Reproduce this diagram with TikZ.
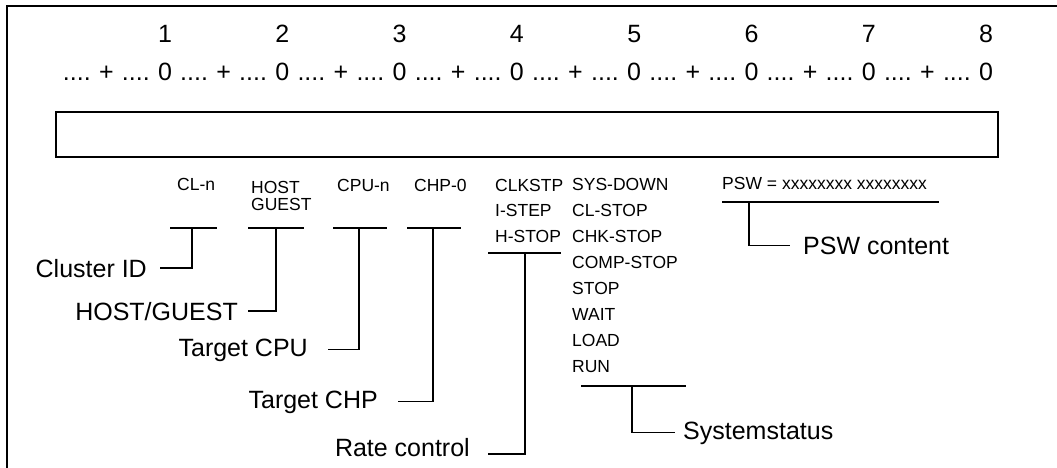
\documentclass[tikz,border=0pt]{standalone}
\usepackage{fontspec}
\setmainfont{Liberation Sans}
\usetikzlibrary{positioning}

\tikzset{
  small/.style={font=\fontsize{17.5}{20}\selectfont, inner sep=0pt},
  big/.style={font=\fontsize{25}{30}\selectfont, inner ysep=0pt},
  lead/.style={line width=1.2pt},
  frame/.style={line width=1.8pt},
}

\begin{document}
\begin{tikzpicture}[x=1pt, y=-1pt]

    \useasboundingbox (0,0) rectangle (1057,468);

    % Outer frame (only left and top edge visible)
    \draw[frame] (7,470) -- (7,6) -- (1060,6);

    % Column ruler
    \foreach \k in {1,...,8} {
        \pgfmathsetmacro{\xk}{165+117.3*(\k-1)}
        \node[big, inner sep=0pt, anchor=base] (num\k) at (\xk,43) {\k};
    }
    \node[big, inner sep=0pt, anchor=base east] (ruler) at (993,81)
        {\frenchspacing\spaceskip=8.3pt .... + .... 0 .... + .... 0 .... + .... 0 .... + .... 0 .... + .... 0 .... + .... 0 .... + .... 0 .... + .... 0};

    % Input line
    \draw[lead] (56,112) rectangle (998,157);

    % Field values
    \node[small, anchor=base west] (cln) at (177,190) {CL-n};
    \node[small, anchor=base west] (host) at (251,193) {HOST};
    \node[small, anchor=base west] (guest) at (251,210) {GUEST};
    \node[small, anchor=base west] (cpun) at (337,191) {CPU-n};
    \node[small, anchor=base west] (chp) at (414,191) {CHP-0};

    \foreach \txt [count=\i from 0] in {CLKSTP, I-STEP, H-STOP}
        \node[small, anchor=base west] (rate\i) at (495,191+25.9*\i) {\txt};

    \foreach \txt [count=\i from 0] in {SYS-DOWN, CL-STOP, CHK-STOP, COMP-STOP, STOP, WAIT, LOAD, RUN}
        \node[small, anchor=base west] (stat\i) at (572,190+26*\i) {\txt};

    \node[small, anchor=base west] (psw) at (722,189) {PSW = xxxxxxxx xxxxxxxx};

    % Field descriptions
    \node[big, anchor=base east, inner xsep=13pt] (clusterid) at (160,277) {Cluster ID};
    \node[big, anchor=base east, inner xsep=10pt] (hostguest) at (248,320) {HOST/GUEST};
    \node[big, anchor=base east, inner xsep=20pt] (targetcpu) at (328,356) {Target CPU};
    \node[big, anchor=base east, inner xsep=20pt] (targetchp) at (398,408) {Target CHP};
    \node[big, anchor=base east, inner xsep=18pt] (ratecontrol) at (488,456) {Rate control};
    \node[big, anchor=base west, inner xsep=8pt] (sysstatus) at (675,439) {Systemstatus};
    \node[big, anchor=base west, inner xsep=13pt] (pswcontent) at (790,254) {PSW content};

    % Brackets under the fields
    \coordinate (cl-tap) at (192,228);
    \coordinate (hg-tap) at (276,228);
    \coordinate (cpu-tap) at (359,228);
    \coordinate (chp-tap) at (433,228);
    \coordinate (rate-tap) at (525,253);
    \coordinate (stat-tap) at (632,386);
    \coordinate (psw-tap) at (749,202);

    \draw[lead] (170,228) -- (217,228);
    \draw[lead] (248,228) -- (304,228);
    \draw[lead] (333,228) -- (387,228);
    \draw[lead] (407,228) -- (461,228);
    \draw[lead] (488,253) -- (561,253);
    \draw[lead] (581,386) -- (686,386);
    \draw[lead] (722,202) -- (939,202);

    % Leaders to the descriptions
    \draw[lead] (cl-tap) |- (clusterid.east);
    \draw[lead] (hg-tap) |- (hostguest.east);
    \draw[lead] (cpu-tap) |- (targetcpu.east);
    \draw[lead] (chp-tap) |- (targetchp.east);
    \draw[lead] (rate-tap) |- ([yshift=2pt]ratecontrol.base east);
    \draw[lead] (stat-tap) |- (sysstatus.west);
    \draw[lead] (psw-tap) |- (pswcontent.west);

\end{tikzpicture}
\end{document}
